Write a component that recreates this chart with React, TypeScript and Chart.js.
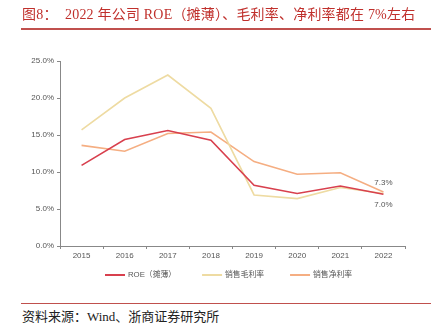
import React, { useEffect, useRef } from "react";
import { Chart, registerables } from "chart.js";

Chart.register(...registerables);

const years = ["2015", "2016", "2017", "2018", "2019", "2020", "2021", "2022"];
const roe = [10.9, 14.4, 15.6, 14.3, 8.2, 7.1, 8.1, 7.0];
const grossMargin = [15.7, 20.0, 23.1, 18.6, 6.9, 6.4, 7.9, 7.1];
const netMargin = [13.6, 12.8, 15.2, 15.4, 11.4, 9.7, 9.9, 7.3];
const seriesNames = ["ROE（摊薄）", "销售毛利率", "销售净利率"];
const seriesColors = ["#d8404e", "#eedba2", "#f5ae82"];
const yTicks = [0, 5, 10, 15, 20, 25];

const SANS = "'Liberation Sans', Arial, 'Noto Sans CJK SC', sans-serif";
const SERIF = "'Liberation Serif', 'Times New Roman', 'Noto Sans CJK SC', serif";

const endLabels = {
  id: "endLabels",
  afterDatasetsDraw(chart: any) {
    const ctx = chart.ctx;
    const xs = chart.scales.x;
    const ys = chart.scales.y;
    const last = years.length - 1;
    ctx.save();
    ctx.font = `8px ${SANS}`;
    ctx.fillStyle = "#555";
    ctx.textAlign = "center";
    ctx.textBaseline = "middle";
    const x = xs.getPixelForValue(last);
    ctx.fillText(netMargin[last].toFixed(1) + "%", x, ys.getPixelForValue(netMargin[last]) - 9);
    ctx.fillText(roe[last].toFixed(1) + "%", x, ys.getPixelForValue(roe[last]) + 11);
    ctx.restore();
  },
};

const lineLegend = {
  id: "lineLegend",
  afterDraw(chart: any) {
    const ctx = chart.ctx;
    const area = chart.chartArea;
    const lineW = 20;
    const gapText = 3;
    const gapItem = 26;
    ctx.save();
    ctx.font = `7.8px ${SANS}`;
    const items = chart.data.datasets.map((d: any) => ({
      text: d.label,
      color: d.borderColor,
      w: lineW + gapText + ctx.measureText(d.label).width,
    }));
    const total = items.reduce((s: number, it: any) => s + it.w, 0) + gapItem * (items.length - 1);
    let x = (area.left + area.right) / 2 - 4 - total / 2;
    const y = area.bottom + 29;
    ctx.textBaseline = "middle";
    ctx.textAlign = "left";
    items.forEach((it: any) => {
      ctx.strokeStyle = it.color;
      ctx.lineWidth = 2;
      ctx.beginPath();
      ctx.moveTo(x, y);
      ctx.lineTo(x + lineW, y);
      ctx.stroke();
      ctx.fillStyle = "#555";
      ctx.fillText(it.text, x + lineW + gapText, y);
      x += it.w + gapItem;
    });
    ctx.restore();
  },
};

export default function App() {
  const ref = useRef<HTMLCanvasElement | null>(null);
  useEffect(() => {
    if (!ref.current) return;
    const series = [roe, grossMargin, netMargin];
    const chart = new Chart(ref.current, {
      type: "line",
      data: {
        labels: years,
        datasets: series.map((data, i) => ({
          label: seriesNames[i],
          data,
          borderColor: seriesColors[i],
          backgroundColor: seriesColors[i],
          borderWidth: 1.6,
          pointRadius: 0,
          tension: 0,
          fill: false,
        })),
      },
      options: {
        animation: false,
        responsive: false,
        maintainAspectRatio: false,
        layout: { padding: { top: 61, right: 39, left: 0, bottom: 28 } },
        plugins: {
          tooltip: { enabled: false },
          legend: { display: false },
        },
        scales: {
          x: {
            offset: true,
            grid: { display: true, drawOnChartArea: false, offset: true, tickLength: 3, color: "#888" },
            border: { display: true, color: "#888" },
            ticks: { color: "#555", font: { size: 8, family: SANS }, padding: 2 },
            afterFit: (s: any) => { s.height = 16; },
          },
          y: {
            min: 0,
            max: 25,
            afterBuildTicks: (s: any) => { s.ticks = yTicks.map((v) => ({ value: v })); },
            grid: { display: true, drawOnChartArea: false, tickLength: 3, color: "#888" },
            border: { display: true, color: "#888" },
            ticks: {
              color: "#555",
              font: { size: 8, family: SANS },
              padding: 3,
              callback: (v: any) => Number(v).toFixed(1) + "%",
            },
            afterFit: (s: any) => { s.width = 60; },
          },
        },
      },
      plugins: [endLabels, lineLegend],
    });
    return () => chart.destroy();
  }, []);

  return (
    <div style={{ position: "fixed", left: 0, top: 0, width: 444, height: 333, background: "#fff", overflow: "hidden" }}>
      <canvas ref={ref} width={444} height={290} style={{ position: "absolute", left: 0, top: 0, width: 444, height: 290 }} />
      <div style={{ position: "absolute", left: 22, top: 6, fontFamily: SERIF, fontSize: 14, letterSpacing: "0.2px", color: "#c0302c", whiteSpace: "pre", lineHeight: "18px" }}>
        {"图8：  2022 年公司 ROE（摊薄）、毛利率、净利率都在 7%左右"}
      </div>
      <div style={{ position: "absolute", left: 21, top: 28, width: 410, height: 1.5, background: "#c0504d" }} />
      <div style={{ position: "absolute", left: 21, top: 302.5, width: 410, height: 1.5, background: "#c0504d" }} />
      <div style={{ position: "absolute", left: 22, top: 309, fontFamily: SERIF, fontSize: 13, color: "#222", whiteSpace: "pre", lineHeight: "16px" }}>
        {"资料来源：Wind、浙商证券研究所"}
      </div>
    </div>
  );
}
